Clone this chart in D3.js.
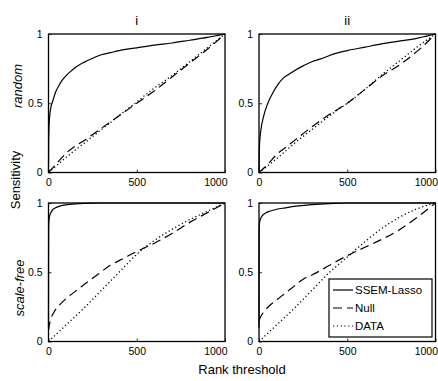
<!DOCTYPE html>
<html>
<head>
<meta charset="utf-8">
<script src="https://cdn.jsdelivr.net/npm/d3@7"></script>
<style>
  body { margin: 0; background: #fff; }
  text { font-family: 'Liberation Sans', Arial, sans-serif; fill: #000; }
</style>
</head>
<body>
<div id="viz"></div>
<script>
const width = 438;
const height = 381;

// Data
const columnLabels = ['i', 'ii'];
const rowLabels = ['random', 'scale-free'];
const seriesNames = ['SSEM-Lasso', 'Null', 'DATA'];
const xTicks = [0, 500, 1000];
const yTicks = [0, 0.5, 1];

// random, i
const lassoRandI_x = [0, 1, 3, 6, 12, 25, 40, 60, 80, 100, 130, 160, 200, 250, 300, 350, 400, 500, 600, 700, 800, 900, 1000];
const lassoRandI_y = [0, 0.22, 0.33, 0.4, 0.46, 0.52, 0.58, 0.63, 0.67, 0.7, 0.735, 0.765, 0.795, 0.825, 0.85, 0.865, 0.88, 0.9, 0.92, 0.935, 0.955, 0.975, 1];
const nullRandI_x = [0, 50, 100, 150, 200, 300, 400, 500, 600, 700, 800, 900, 1000];
const nullRandI_y = [0, 0.07, 0.14, 0.19, 0.23, 0.32, 0.41, 0.5, 0.59, 0.69, 0.79, 0.89, 1];
const dataRandI_x = [0, 100, 200, 300, 400, 500, 600, 700, 800, 900, 1000];
const dataRandI_y = [0, 0.11, 0.21, 0.31, 0.41, 0.51, 0.61, 0.7, 0.8, 0.9, 1];

// random, ii
const lassoRandII_x = [0, 3, 10, 25, 50, 80, 110, 140, 170, 200, 250, 300, 350, 400, 450, 500, 600, 700, 800, 900, 950, 1000];
const lassoRandII_y = [0, 0.2, 0.3, 0.4, 0.5, 0.58, 0.64, 0.685, 0.71, 0.735, 0.77, 0.8, 0.82, 0.845, 0.865, 0.88, 0.905, 0.93, 0.95, 0.97, 0.985, 1];
const nullRandII_x = [0, 50, 100, 150, 200, 300, 400, 500, 600, 700, 800, 900, 1000];
const nullRandII_y = [0, 0.06, 0.13, 0.18, 0.23, 0.33, 0.42, 0.5, 0.6, 0.7, 0.78, 0.88, 1];
const dataRandII_x = [0, 100, 200, 300, 400, 500, 600, 700, 800, 900, 1000];
const dataRandII_y = [0, 0.1, 0.21, 0.31, 0.41, 0.5, 0.6, 0.71, 0.81, 0.91, 1];

// scale-free, i
const lassoFreeI_x = [0, 0.5, 1, 2, 5, 10, 20, 40, 70, 100, 150, 200, 300, 1000];
const lassoFreeI_y = [0.1, 0.63, 0.8, 0.86, 0.9, 0.92, 0.945, 0.965, 0.98, 0.987, 0.993, 0.997, 1, 1];
const nullFreeI_x = [0, 5, 15, 30, 60, 100, 150, 200, 275, 350, 425, 500, 600, 700, 800, 900, 1000];
const nullFreeI_y = [0.08, 0.12, 0.17, 0.21, 0.26, 0.31, 0.36, 0.41, 0.48, 0.55, 0.6, 0.65, 0.71, 0.78, 0.86, 0.93, 1];
const dataFreeI_x = [0, 100, 200, 300, 400, 500, 600, 700, 800, 900, 1000];
const dataFreeI_y = [0, 0.12, 0.24, 0.37, 0.5, 0.63, 0.73, 0.81, 0.88, 0.94, 1];

// scale-free, ii
const lassoFreeII_x = [0, 0.5, 2, 5, 10, 20, 40, 60, 100, 150, 200, 300, 400, 500, 1000];
const lassoFreeII_y = [0.1, 0.78, 0.84, 0.87, 0.89, 0.91, 0.93, 0.94, 0.955, 0.965, 0.975, 0.988, 0.996, 1, 1];
const nullFreeII_x = [0, 10, 25, 60, 100, 150, 200, 250, 300, 400, 500, 600, 700, 800, 900, 1000];
const nullFreeII_y = [0.15, 0.18, 0.21, 0.26, 0.3, 0.35, 0.4, 0.45, 0.48, 0.55, 0.62, 0.68, 0.74, 0.81, 0.9, 1];
const dataFreeII_x = [0, 100, 200, 300, 400, 500, 600, 700, 800, 900, 1000];
const dataFreeII_y = [0, 0.12, 0.24, 0.37, 0.5, 0.61, 0.72, 0.82, 0.9, 0.96, 1];

const panels = [
  {row: 0, col: 0, series: [[lassoRandI_x, lassoRandI_y], [nullRandI_x, nullRandI_y], [dataRandI_x, dataRandI_y]]},
  {row: 0, col: 1, series: [[lassoRandII_x, lassoRandII_y], [nullRandII_x, nullRandII_y], [dataRandII_x, dataRandII_y]]},
  {row: 1, col: 0, series: [[lassoFreeI_x, lassoFreeI_y], [nullFreeI_x, nullFreeI_y], [dataFreeI_x, dataFreeI_y]]},
  {row: 1, col: 1, series: [[lassoFreeII_x, lassoFreeII_y], [nullFreeII_x, nullFreeII_y], [dataFreeII_x, dataFreeII_y]]}
];

// Layout
const colLeft = [48.5, 259];
const rowTop = [34, 203];
const pw = 176.5;
const ph = 138.5;
const dashes = [null, '9,5', '1.2,2.6'];

const svg = d3.select('#viz')
  .append('svg')
    .attr('width', width)
    .attr('height', height);

const xScale = d3.scaleLinear().domain([0, 1000]).range([0, pw]);
const yScale = d3.scaleLinear().domain([0, 1]).range([ph, 0]);

const line = d3.line()
  .x(d => xScale(d[0]))
  .y(d => yScale(d[1]))
  .curve(d3.curveMonotoneX);

panels.forEach(p => {
  const g = svg.append('g')
    .attr('transform', `translate(${colLeft[p.col]},${rowTop[p.row]})`);

  // series
  p.series.forEach((s, i) => {
    const pts = s[0].map((x, k) => [x, s[1][k]]);
    g.append('path')
      .attr('d', line(pts))
      .attr('fill', 'none')
      .attr('stroke', '#000')
      .attr('stroke-width', i === 2 ? 1.3 : 1.2)
      .attr('stroke-dasharray', dashes[i]);
  });

  // axes with inward ticks
  const xAxis = g.append('g')
    .attr('transform', `translate(0,${ph})`)
    .call(d3.axisBottom(xScale).tickValues(xTicks).tickSize(-3).tickPadding(6).tickFormat(d3.format('d')));
  const yAxis = g.append('g')
    .call(d3.axisLeft(yScale).tickValues(yTicks).tickSize(-3).tickPadding(6).tickFormat(d => d === 0.5 ? '0.5' : d));
  [xAxis, yAxis].forEach(a => {
    a.select('.domain').remove();
    a.selectAll('.tick line').attr('stroke', '#000').attr('stroke-width', 0.8);
    a.selectAll('.tick text').style('font-size', '10.5px').style('font-family', "'Liberation Sans', Arial, sans-serif");
  });
  // last label is pulled inward so it stays inside the page
  xAxis.selectAll('.tick text')
    .filter(d => d === 1000)
    .attr('text-anchor', 'end')
    .attr('dx', 2);

  // frame
  g.append('rect')
    .attr('width', pw)
    .attr('height', ph)
    .attr('fill', 'none')
    .attr('stroke', '#000')
    .attr('stroke-width', 1.3);
});

// column titles
columnLabels.forEach((t, i) => {
  svg.append('text')
    .attr('x', colLeft[i] + pw / 2)
    .attr('y', 25)
    .attr('text-anchor', 'middle')
    .style('font-size', '13px')
    .text(t);
});

// row labels
const rowLabelPos = [[22, 86], [24, 288]];
rowLabels.forEach((t, i) => {
  svg.append('text')
    .attr('transform', `translate(${rowLabelPos[i][0]},${rowLabelPos[i][1]}) rotate(-90)`)
    .attr('text-anchor', 'middle')
    .style('font-size', '13px')
    .style('font-style', 'italic')
    .text(t);
});

svg.append('text')
  .attr('transform', 'translate(20,180) rotate(-90)')
  .attr('text-anchor', 'middle')
  .style('font-size', '13px')
  .text('Sensitivity');

svg.append('text')
  .attr('x', 242)
  .attr('y', 374)
  .attr('text-anchor', 'middle')
  .style('font-size', '13px')
  .text('Rank threshold');

// legend in bottom-right panel
const legend = svg.append('g').attr('transform', 'translate(329,279)');
legend.append('rect')
  .attr('width', 103)
  .attr('height', 58)
  .attr('fill', '#fff')
  .attr('stroke', '#000')
  .attr('stroke-width', 1.2);
seriesNames.forEach((name, i) => {
  const y = 11 + i * 18;
  legend.append('line')
    .attr('x1', 4).attr('x2', 24)
    .attr('y1', y).attr('y2', y)
    .attr('stroke', '#000')
    .attr('stroke-width', 1.2)
    .attr('stroke-dasharray', dashes[i]);
  legend.append('text')
    .attr('x', 26)
    .attr('y', y + 4)
    .style('font-size', '11.5px')
    .text(name);
});
</script>
</body>
</html>
